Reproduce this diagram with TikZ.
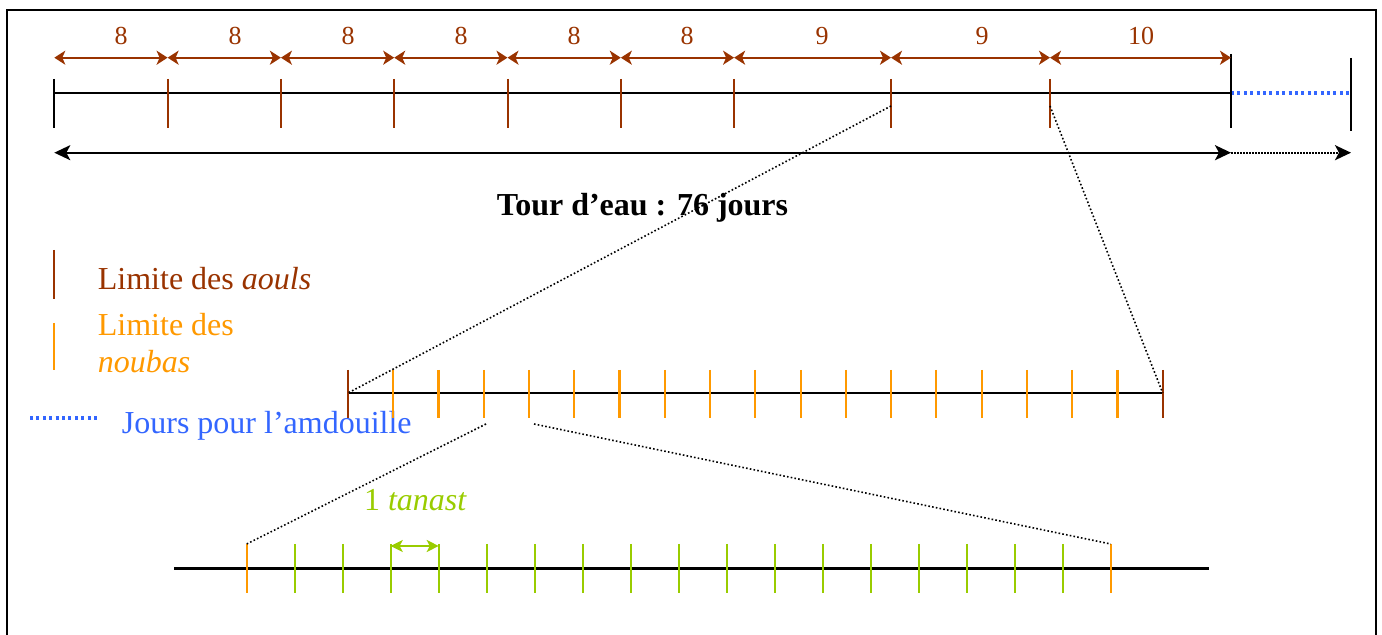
\documentclass[tikz,border=0pt]{standalone}
\usepackage{fontspec}
\setmainfont{Liberation Serif}
\usetikzlibrary{arrows.meta}
\definecolor{aoul}{HTML}{993300}
\definecolor{nouba}{HTML}{FF9900}
\definecolor{tanc}{HTML}{99CC00}
\definecolor{amd}{HTML}{3366FF}
\begin{document}
\begin{tikzpicture}[x=0.5pt,y=-0.5pt,
  txt/.style={font=\fontsize{16}{18.5}\selectfont, inner sep=0pt, anchor=base west},
  num/.style={font=\fontsize{13}{15}\selectfont, text=aoul, inner sep=0pt, anchor=base},
  axis/.style={line width=1.1pt, black},
  blacktick/.style={line width=0.9pt, black},
  aoultick/.style={aoul, line width=1pt},
  noubatick/.style={nouba, line width=1.1pt},
  tantick/.style={tanc, line width=1pt},
  span/.style={aoul, line width=1pt, {Stealth[length=5.5pt,width=7pt,inset=1.5pt]}-{Stealth[length=5.5pt,width=7pt,inset=1.5pt]}},
  bigarrow/.style={black, line width=1.1pt, {Stealth[length=8pt,width=7.5pt,inset=2pt]}-{Stealth[length=8pt,width=7.5pt,inset=2pt]}},
  dotarrow/.style={black, line width=0.9pt, dash pattern=on 0.8pt off 0.7pt, -{Stealth[length=8pt,width=7.5pt,inset=2pt]}},
  zoomline/.style={black, line width=0.8pt, dash pattern=on 0.8pt off 1.1pt},
  amdline/.style={amd, line width=1.7pt, dash pattern=on 1.5pt off 1.7pt},
  tanarrow/.style={tanc, line width=1pt, {Stealth[length=6pt,width=6pt,inset=1.5pt]}-{Stealth[length=6pt,width=6pt,inset=1.5pt]}},
]
\useasboundingbox (0,0) rectangle (1382,635);
% frame
\draw[line width=1.1pt] (7,636) -- (7,10) -- (1376,10) -- (1376,636);

% ---- top scale
\foreach \i/\x in {0/54.3,1/167.6,2/280.9,3/394.2,4/507.5,5/620.8,6/734.1,7/891,8/1050,9/1231}{
  \coordinate (a\i) at (\x,93);
  \coordinate (b\i) at (\x,57.7);
  \coordinate (c\i) at (\x,152.7);
}
\coordinate (e) at (1351,93);
\coordinate (ce) at (1351,152.7);
\draw[axis] (a0) -- (a9);
\draw[amdline] (a9) -- (e);
\draw[blacktick] (a0) ++(0,-14) -- ++(0,49);
\foreach \i in {1,...,8}{\draw[aoultick] (a\i) ++(0,-14) -- ++(0,49);}
\draw[blacktick] (a9) ++(0,-39) -- ++(0,74);
\draw[blacktick] (e) ++(0,-35) -- ++(0,73);

\foreach \i/\j/\n/\lx in {0/1/8/121,1/2/8/235,2/3/8/348,3/4/8/461,4/5/8/574,5/6/8/687,6/7/9/822,7/8/9/982,8/9/10/1141}{
  \draw[span] (b\i) -- (b\j);
  \node[num] (lab\i) at (\lx,45) {\n};
}
\draw[bigarrow] (c0) -- (c9);
\draw[dotarrow] (c9) -- (ce);
\node[font=\bfseries\fontsize{16}{19}\selectfont, inner sep=0pt, anchor=base] (title) at (642.5,216) {Tour d’eau : 76 jours};

% ---- legend
\coordinate (l1a) at (54,250); \coordinate (l1b) at (54,299);
\coordinate (l2a) at (54,323); \coordinate (l2b) at (54,370);
\coordinate (l3a) at (30,418); \coordinate (l3b) at (98,418);
\draw[aoultick] (l1a) -- (l1b);
\draw[noubatick] (l2a) -- (l2b);
\draw[amdline] (l3a) -- (l3b);
\node[txt, text=aoul] (leg1) at (97.5,290) {Limite des \textit{aouls}};
\node[txt, text=nouba] (leg2) at (97.5,335.7) {Limite des};
\node[txt, text=nouba] (leg2b) at (97.5,373) {\textit{noubas}};
\node[txt, text=amd] (leg3) at (121.5,433.3) {Jours pour l’amdouille};

% ---- middle scale (noubas)
\foreach \k in {0,...,18}{\coordinate (m\k) at ({348+45.26*\k},393);}
\draw[axis] (m0) -- (m18);
\foreach \k in {1,...,17}{\draw[noubatick] (m\k) ++(0,-23) -- ++(0,48);}
\draw[aoultick] (m0) ++(0,-23) -- ++(0,48);
\draw[aoultick] (m18) ++(0,-23) -- ++(0,48);

% ---- bottom scale (tanasts)
\coordinate (s0) at (174,568.5);
\coordinate (s1) at (1209,568.5);
\foreach \k in {0,...,18}{\coordinate (n\k) at ({246.7+48*\k},568.5);}
\draw[axis] (s0) -- (s1);
\foreach \k in {1,...,17}{\draw[tantick] (n\k) ++(0,-24.5) -- ++(0,49);}
\draw[noubatick] (n0) ++(0,-24.5) -- ++(0,49);
\draw[noubatick] (n18) ++(0,-24.5) -- ++(0,49);
\coordinate (ta) at (390.7,546);
\coordinate (tb) at (438.7,546);
\draw[tanarrow] (ta) -- (tb);
\node[txt, text=tanc, anchor=base] (tanlab) at (415.5,510.7) {1 \textit{tanast}};

% ---- zoom connectors
\coordinate (z1) at (891,106);
\coordinate (z2) at (1050,106);
\coordinate (z3) at (486,424);
\coordinate (z4) at (534,424);
\coordinate (w1) at (246.7,544);
\coordinate (w2) at (1110.7,544);
\draw[zoomline] (z1) -- (m0);
\draw[zoomline] (z2) -- (m18);
\draw[zoomline] (z3) -- (w1);
\draw[zoomline] (z4) -- (w2);
\end{tikzpicture}
\end{document}
